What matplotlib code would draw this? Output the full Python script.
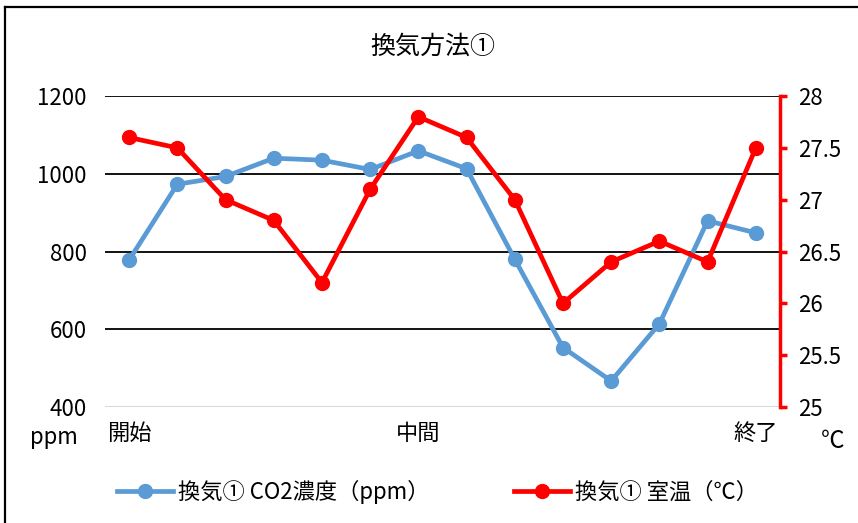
import matplotlib
matplotlib.use("Agg")
import matplotlib.pyplot as plt
from matplotlib.lines import Line2D

plt.rcParams["font.family"] = ["Noto Sans CJK JP", "DejaVu Sans"]

# data
categories = ["開始", "", "", "", "", "", "中間", "", "", "", "", "", "", "終了"]
co2_ppm = [778, 973, 993, 1040, 1035, 1011, 1059, 1013, 780, 553, 467, 614, 879, 848]
room_temp = [27.6, 27.5, 27.0, 26.8, 26.2, 27.1, 27.8, 27.6, 27.0, 26.0, 26.4, 26.6, 26.4, 27.5]
left_ticks = [400, 600, 800, 1000, 1200]
right_ticks = [25, 25.5, 26, 26.5, 27, 27.5, 28]

BLUE = "#5B9BD5"
RED = "#FF0000"
FS = 16

fig = plt.figure(figsize=(8.58, 5.23), dpi=100)
ax = fig.add_axes([0.1224, 0.2218, 0.7866, 0.5946])
x = list(range(len(categories)))

# gridlines
for v in left_ticks[1:]:
    ax.axhline(v, color="black", lw=1.3, zorder=1)
ax.axhline(left_ticks[0], color="#D9D9D9", lw=1.5, zorder=1)

l1, = ax.plot(x, co2_ppm, color=BLUE, lw=3.4, marker="o", ms=10,
              label="換気① CO2濃度（ppm）", zorder=3)
ax.set_ylim(400, 1200)
ax.set_yticks(left_ticks)
ax.set_xlim(-0.5, len(categories) - 0.5)
ax.set_xticks(x)
ax.set_xticklabels(categories)
ax.tick_params(axis="both", length=0, labelsize=FS)
ax.tick_params(axis="x", pad=11)
ax.tick_params(axis="y", pad=13)
for s in ax.spines.values():
    s.set_visible(False)

ax2 = ax.twinx()
l2, = ax2.plot(x, room_temp, color=RED, lw=3.4, marker="o", ms=10,
               label="換気① 室温（℃）", zorder=3)
ax2.set_ylim(25, 28)
ax2.set_yticks(right_ticks)
ax2.set_yticklabels([f"{t:g}" for t in right_ticks])
for s in ["top", "left", "bottom"]:
    ax2.spines[s].set_visible(False)
ax2.spines["right"].set_color(RED)
ax2.spines["right"].set_linewidth(2.5)
ax2.tick_params(axis="y", colors=RED, labelcolor="black", length=5, width=2.5,
                labelsize=FS, pad=8)

fig.text(0.063, 0.164, "ppm", fontsize=FS, ha="center", va="center")
fig.text(0.971, 0.155, "℃", fontsize=17, ha="center", va="center")
fig.text(0.505, 0.91, "換気方法①", fontsize=18, ha="center", va="center")

fig.legend(handles=[l1, l2], loc="center", bbox_to_anchor=(0.51, 0.059),
           ncol=2, frameon=False, fontsize=FS, handlelength=2.5,
           columnspacing=3.8, handletextpad=0.25)

# outer frame
fig.add_artist(Line2D([0.0058, 0.0058], [0, 0.9866], transform=fig.transFigure,
                      color="black", lw=1.6))
fig.add_artist(Line2D([0.0058, 1.0], [0.9866, 0.9866], transform=fig.transFigure,
                      color="black", lw=1.6))

fig.savefig("out.png", dpi=100)
